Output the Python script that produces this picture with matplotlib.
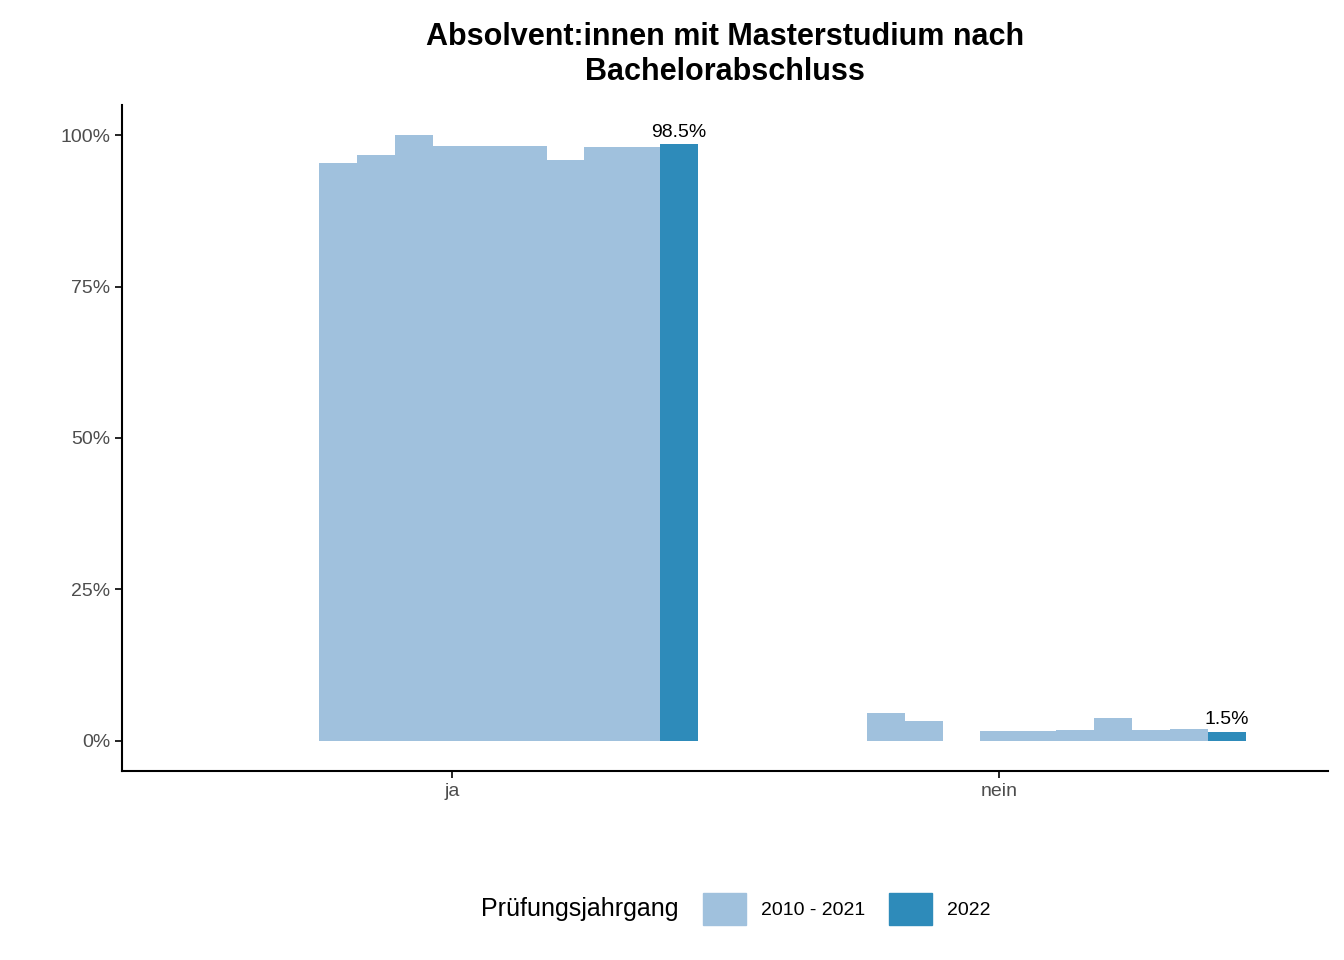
import numpy as np
import matplotlib.pyplot as plt
from matplotlib.patches import Patch

plt.rc('font', family='Liberation Sans')

categories = ['ja', 'nein']
years = list(range(2010, 2023))
# percent per year (2010..2022); nan = no data
ja_values = [np.nan, np.nan, np.nan, 95.5, 96.8, 100.0, 98.3, 98.3, 98.3, 96.0, 98.0, 98.0, 98.5]
nein_values = [np.nan, np.nan, np.nan, 4.5, 3.2, 0.0, 1.6, 1.6, 1.7, 3.8, 1.8, 2.0, 1.5]
legend_labels = ['2010 - 2021', '2022']

light = '#A0C1DD'
dark = '#2E8BBA'

fig = plt.figure(figsize=(13.44, 9.6), dpi=100)
ax = fig.add_axes([0.0908, 0.197, 0.8973, 0.6936])

n = len(years)
w = 0.9 / n
for ci, vals in enumerate([ja_values, nein_values]):
    for i, v in enumerate(vals):
        if np.isnan(v):
            continue
        x = ci + 1 - 0.45 + w * (i + 0.5)
        col = dark if years[i] == 2022 else light
        ax.bar(x, v, width=w, color=col, linewidth=0)
        if years[i] == 2022:
            ax.text(x, v + 0.6, f'{v:.1f}%', ha='center', va='bottom', fontsize=14)

ax.set_xlim(0.398, 2.6)
ax.set_ylim(-5, 105)
ax.set_xticks([1, 2])
ax.set_xticklabels(categories, fontsize=14, color='#4D4D4D')
ax.set_yticks([0, 25, 50, 75, 100])
ax.set_yticklabels(['0%', '25%', '50%', '75%', '100%'], fontsize=14, color='#4D4D4D')
for s in ['top', 'right']:
    ax.spines[s].set_visible(False)
for s in ['left', 'bottom']:
    ax.spines[s].set_linewidth(1.5)
ax.tick_params(length=5, width=1.2)

ax.set_title('Absolvent:innen mit Masterstudium nach\nBachelorabschluss',
             fontsize=22, fontweight='bold', pad=18)

handles = [Patch(color=light), Patch(color=dark)]
fig.legend(handles, legend_labels, title='Prüfungsjahrgang', loc='center',
           bbox_to_anchor=(0.54, 0.053), ncol=2, frameon=False, fontsize=14,
           title_fontsize=18, handlelength=2.2, handleheight=2.2,
           columnspacing=1.2, alignment='left')
leg = fig.legends[0]
leg._legend_box.align = 'left'
# put title inline to the left
from matplotlib.offsetbox import HPacker
box = leg._legend_box
box._children = [box._children[1]]
fig.text(0.505, 0.053, 'Prüfungsjahrgang', ha='right', va='center', fontsize=18)
leg.set_bbox_to_anchor((0.63, 0.053), transform=fig.transFigure)

fig.savefig('out.png', dpi=100)
